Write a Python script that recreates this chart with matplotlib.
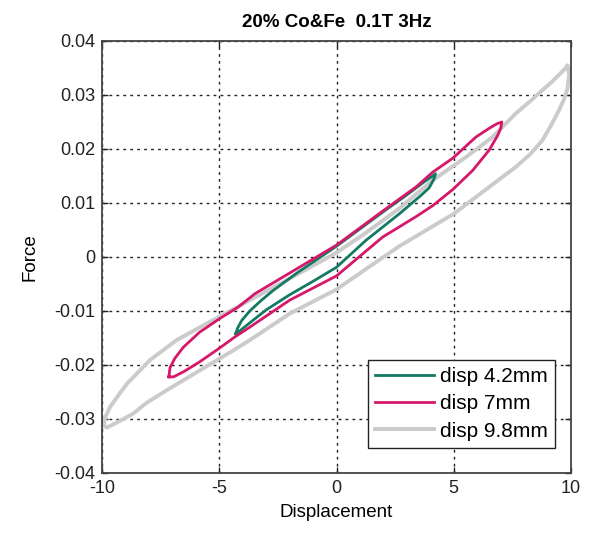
import matplotlib.pyplot as plt

plt.rcParams['font.family'] = ['Liberation Sans', 'DejaVu Sans']

# loops traced lower-left tip -> upper branch -> upper-right tip -> lower branch -> back
disp42_x = [-4.30, -4.22, -4.05, -3.70, -3.20, -2.70, -1.70, 0.00, 1.00, 2.00, 3.00, 3.70, 4.10, 4.22,
            4.15, 3.95, 3.60, 2.68, 1.26, 0.00, -1.00, -2.00, -3.00, -3.70, -4.10, -4.30]
disp42_y = [-0.0142, -0.0132, -0.0118, -0.0100, -0.0080, -0.0062, -0.0030, 0.0020, 0.0052, 0.0084, 0.0115, 0.0138, 0.0150, 0.0154,
            0.0144, 0.0128, 0.0114, 0.0080, 0.0031, -0.0019, -0.0045, -0.0070, -0.0098, -0.0122, -0.0136, -0.0142]

disp7_x = [-7.15, -7.10, -6.90, -6.53, -5.83, -4.98, -4.20, -3.48, -1.70, 0.00, 2.00, 3.40, 4.10, 4.96, 5.94, 6.50, 6.85, 7.05,
           7.00, 6.87, 6.51, 5.80, 4.96, 4.10, 3.40, 1.97, 0.00, -2.00, -3.70, -4.30, -5.00, -5.83, -6.50, -6.95, -7.15]
disp7_y = [-0.0222, -0.0205, -0.0188, -0.0167, -0.0139, -0.0114, -0.0093, -0.0068, -0.0022, 0.0022, 0.0086, 0.0130, 0.0157, 0.0183, 0.0222, 0.0238, 0.0247, 0.0250,
           0.0238, 0.0225, 0.0198, 0.0160, 0.0125, 0.0095, 0.0075, 0.0037, -0.0035, -0.0080, -0.0130, -0.0147, -0.0169, -0.0194, -0.0212, -0.0222, -0.0222]

disp98_x = [-9.93, -9.85, -9.66, -9.30, -8.94, -7.96, -6.82, -5.40, -3.70, -2.00, 0.00, 1.26, 2.68, 4.10, 5.52, 6.65, 7.65, 8.30, 8.78, 9.20, 9.50, 9.75, 9.85,
            9.92, 9.85, 9.70, 9.49, 9.15, 8.78, 8.25, 7.65, 6.37, 5.00, 2.68, 1.40, 0.00, -2.00, -3.70, -4.40, -5.83, -7.25, -8.10, -8.67, -9.30, -9.80, -9.93]
disp98_y = [-0.0312, -0.0296, -0.0278, -0.0256, -0.0235, -0.0191, -0.0154, -0.0120, -0.0080, -0.0040, 0.0008, 0.0045, 0.0090, 0.0142, 0.0185, 0.0222, 0.0266, 0.0290, 0.0309, 0.0325, 0.0338, 0.0349, 0.0355,
            0.0338, 0.0312, 0.0292, 0.0272, 0.0244, 0.0216, 0.0190, 0.0167, 0.0125, 0.0080, 0.0020, -0.0018, -0.0060, -0.0105, -0.0154, -0.0173, -0.0210, -0.0247, -0.0270, -0.0290, -0.0305, -0.0316, -0.0312]

x_ticks = [-10, -5, 0, 5, 10]
y_ticks = [-0.04, -0.03, -0.02, -0.01, 0, 0.01, 0.02, 0.03, 0.04]
y_tick_labels = ['-0.04', '-0.03', '-0.02', '-0.01', '0', '0.01', '0.02', '0.03', '0.04']

fig = plt.figure(figsize=(5.98, 5.33), dpi=100)
ax = fig.add_axes([0.1706, 0.1126, 0.7843, 0.8105])

ax.plot(disp42_x, disp42_y, color='#137a63', lw=2.0, label='disp 4.2mm', zorder=3)
ax.plot(disp7_x, disp7_y, color='#d6176a', lw=2.0, label='disp 7mm', zorder=4)
ax.plot(disp98_x, disp98_y, color='#cbcbcb', lw=2.8, label='disp 9.8mm', zorder=2)

ax.set_xlim(-10, 10)
ax.set_ylim(-0.04, 0.04)
ax.set_xticks(x_ticks)
ax.set_xticklabels([str(t) for t in x_ticks])
ax.set_yticks(y_ticks)
ax.set_yticklabels(y_tick_labels)
ax.tick_params(direction='in', length=4, width=1, labelsize=13, pad=5,
               top=True, right=True, colors='#222222')
ax.grid(True, color='#222222', linestyle=(0, (2, 3)), linewidth=1.0)
for sp in ax.spines.values():
    sp.set_color('#444444')
    sp.set_linewidth(1.3)

ax.set_xlabel('Displacement', fontsize=13.5, labelpad=5)
ax.set_ylabel('Force', fontsize=13.5, labelpad=11)
ax.set_title('20% Co&Fe  0.1T 3Hz', fontsize=13.5, fontweight='bold', pad=10)

leg = ax.legend(loc='lower right', bbox_to_anchor=(0.966, 0.058), borderaxespad=0,
                fontsize=15, fancybox=False, framealpha=1, edgecolor='#222222',
                handlelength=2.8, handletextpad=0.3, borderpad=0.35, labelspacing=0.4)
leg.get_frame().set_linewidth(1.0)

plt.savefig('out.png', dpi=100)
